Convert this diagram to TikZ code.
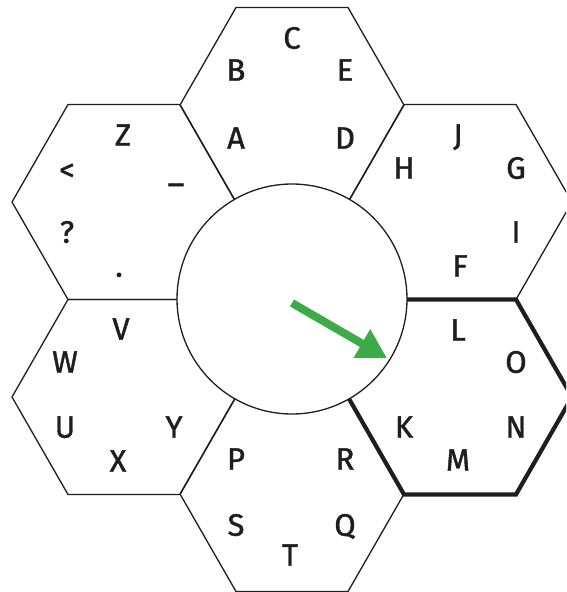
\documentclass[tikz,border=0pt]{standalone}
\usepackage{fontspec}
\setmainfont{Fira Sans}[UprightFeatures={FakeBold=1.3}]
\usetikzlibrary{arrows.meta}
\definecolor{hexdark}{RGB}{30,30,30}
\definecolor{arrowgreen}{RGB}{62,170,72}
\tikzset{
  hexline/.style={draw=hexdark, line width=1.3pt, line join=miter},
  hexbold/.style={draw=hexdark, line width=4.2pt, line join=miter},
  dial/.style={circle, draw=hexdark, line width=1.3pt, fill=white, minimum size=230pt, inner sep=0pt},
  letter/.style={font=\fontsize{31}{31}\selectfont, text=hexdark, inner sep=0pt, text height=21.4pt, text depth=0pt},
  pointer/.style={draw=arrowgreen, line width=8pt, -{Triangle[length=29pt, width=31pt]}}
}

\begin{document}
\begin{tikzpicture}[x=1pt, y=-1pt]
  \clip (0,0) rectangle (566,592);
  \fill[white] (0,0) rectangle (566,592);

  % six cells around the dial
  \foreach \cx/\cy in {292/105, 124/202, 460/202, 124/397, 460/397, 292/494}
    \draw [hexline] (\cx+112,\cy) -- (\cx+56,\cy-97.5) -- (\cx-56,\cy-97.5)
      -- (\cx-112,\cy) -- (\cx-56,\cy+97.5) -- (\cx+56,\cy+97.5) -- cycle;
  \draw [hexbold] (572,397) -- (516,299.5) -- (404,299.5)
    -- (348,397) -- (404,494.5) -- (516,494.5) -- cycle;

  \node [dial] (dial) at (292,299) {};

  % top cell
  \node [letter] (kC) at (292,38) {C};
  \node [letter] (kB) at (236,70) {B};
  \node [letter] (kE) at (345,70) {E};
  \node [letter] (kA) at (236,138) {A};
  \node [letter] (kD) at (345,138) {D};
  % upper left cell
  \node [letter] (kZ) at (123,135) {Z};
  \node [letter] (klt) at (67,170) {<};
  \node [letter] (kus) at (176,171) {\_};
  \node [letter] (kqm) at (67,232) {?};
  \node [letter] (kdot) at (119,266) {.};
  % upper right cell
  \node [letter] (kJ) at (458,135) {J};
  \node [letter] (kH) at (404,168) {H};
  \node [letter] (kG) at (516,168) {G};
  \node [letter] (kI) at (516,232) {I};
  \node [letter] (kF) at (460,266) {F};
  % lower left cell
  \node [letter] (kV) at (121,329) {V};
  \node [letter] (kW) at (65,362) {W};
  \node [letter] (kU) at (65,427) {U};
  \node [letter] (kY) at (174,427) {Y};
  \node [letter] (kX) at (118,461) {X};
  % lower right cell
  \node [letter] (kL) at (458,330) {L};
  \node [letter] (kO) at (516,362) {O};
  \node [letter] (kK) at (404,427) {K};
  \node [letter] (kN) at (516,427) {N};
  \node [letter] (kM) at (458,460) {M};
  % bottom cell
  \node [letter] (kP) at (236,459) {P};
  \node [letter] (kR) at (345,459) {R};
  \node [letter] (kS) at (236,525) {S};
  \node [letter] (kQ) at (345,525) {Q};
  \node [letter] (kT) at (290,555) {T};

  % pointer in the dial
  \coordinate (tail) at (292,303);
  \coordinate (tip) at (387,358);
  \draw [pointer] (tail) -- (tip);
\end{tikzpicture}
\end{document}
